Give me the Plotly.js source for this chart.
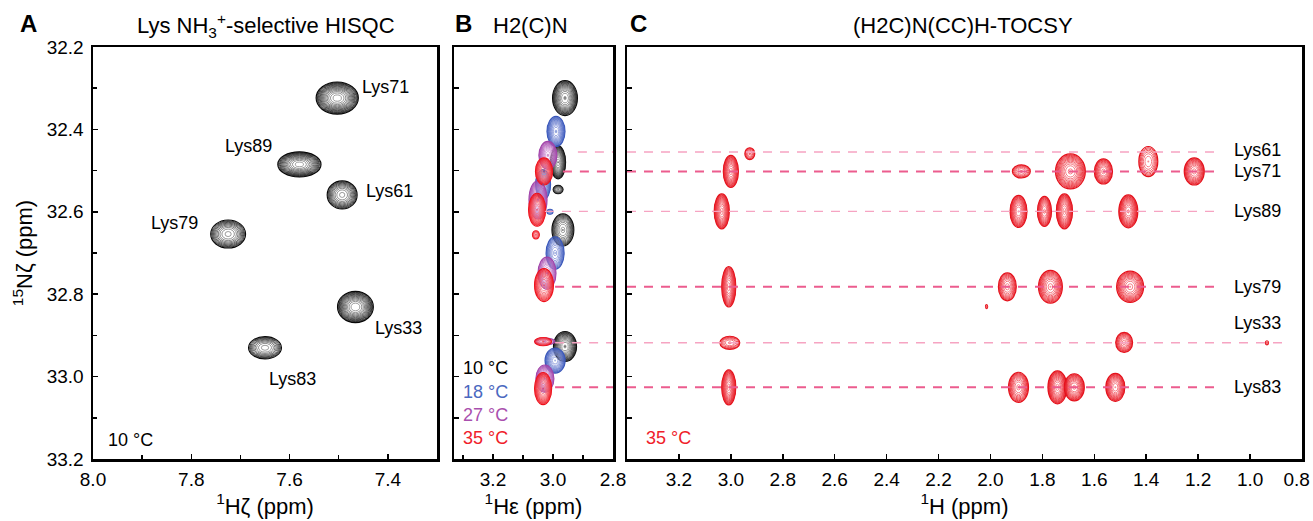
<!DOCTYPE html>
<html>
<head>
<meta charset="utf-8">
<script src="https://cdn.plot.ly/plotly-3.0.1.min.js"></script>
<style>html,body{margin:0;padding:0;background:#fff;}#chart{width:1313px;height:521px;}</style>
</head>
<body>
<div id="chart"></div>
<script>
// ---------------- DATA ----------------
// Panel A: Lys NH3+-selective HISQC, 10 °C
const aResidues = ['Lys71', 'Lys89', 'Lys61', 'Lys79', 'Lys33', 'Lys83'];
const aH = [7.503, 7.580, 7.493, 7.725, 7.466, 7.650];          // 1Hζ (ppm)
const aN = [32.324, 32.485, 32.559, 32.654, 32.831, 32.930];    // 15Nζ (ppm)
const aWidthH = [0.086, 0.088, 0.061, 0.071, 0.073, 0.067];     // peak width, ppm
const aWidthN = [0.078, 0.061, 0.068, 0.068, 0.076, 0.054];
const aIntensity = [60, 45, 15, 15, 50, 12];                   // relative to lowest contour

// Panel B: H2(C)N, four temperatures. Residue order below; null = not observed
const bResidues = ['Lys71', 'Lys89', 'Lys61', 'Lys79', 'Lys33', 'Lys83'];
const bTemps = ['10 °C', '18 °C', '27 °C', '35 °C'];
const bH10 = [2.960, 2.983, 2.983, 2.967, null, 2.960];
const bN10 = [32.324, 32.480, 32.546, 32.644, null, 32.927];
const bWH10 = [0.083, 0.050, 0.033, 0.073, null, 0.077];
const bWN10 = [0.085, 0.080, 0.020, 0.078, null, 0.073];
const bI10 = [40, 80, 8, 15, null, 40];
const bH18 = [2.990, 3.033, 3.010, 2.993, null, 2.993];
const bN18 = [32.405, 32.534, 32.600, 32.700, null, 32.961];
const bWH18 = [0.060, 0.050, 0.020, 0.060, null, 0.067];
const bWN18 = [0.073, 0.073, 0.012, 0.078, null, 0.061];
const bI18 = [40, 30, 3, 15, null, 30];
const bH27 = [3.017, 3.050, null, 3.020, 3.027, 3.027];
const bN27 = [32.463, 32.571, null, 32.749, 32.915, 33.005];
const bWH27 = [0.060, 0.060, null, 0.060, 0.067, 0.060];
const bWN27 = [0.068, 0.093, null, 0.078, 0.017, 0.066];
const bI27 = [40, 40, null, 15, 5, 35];
const bH35 = [3.030, 3.053, 3.057, 3.030, 3.033, 3.033];
const bN35 = [32.502, 32.595, 32.656, 32.778, 32.915, 33.029];
const bWH35 = [0.057, 0.057, 0.023, 0.063, 0.057, 0.057];
const bWN35 = [0.066, 0.080, 0.020, 0.080, 0.020, 0.078];
const bI35 = [45, 50, 4, 20, 5, 45];

// Panel C: (H2C)N(CC)H-TOCSY, 35 °C, cross peaks
const cResidues = ['Lys61','Lys61',
  'Lys71','Lys71','Lys71','Lys71','Lys71',
  'Lys89','Lys89','Lys89','Lys89','Lys89',
  'Lys79','Lys79','Lys79','Lys79','Lys79',
  'Lys33','Lys33','Lys33',
  'Lys83','Lys83','Lys83','Lys83','Lys83'];
const cH = [2.927, 1.392,
  3.000, 1.881, 1.692, 1.565, 1.215,
  3.035, 1.892, 1.792, 1.715, 1.469,
  3.008, 1.935, 1.769, 1.462, 2.015,
  3.004, 1.485, 0.935,
  3.008, 1.892, 1.742, 1.677, 1.519];
const cN = [32.459, 32.478,
  32.502, 32.502, 32.502, 32.502, 32.502,
  32.599, 32.599, 32.599, 32.599, 32.599,
  32.782, 32.782, 32.782, 32.782, 32.830,
  32.918, 32.917, 32.918,
  33.026, 33.026, 33.026, 33.026, 33.026];
const cWH = [0.038, 0.073,
  0.058, 0.069, 0.115, 0.070, 0.077,
  0.058, 0.065, 0.054, 0.062, 0.073,
  0.054, 0.069, 0.092, 0.104, 0.008,
  0.077, 0.065, 0.012,
  0.054, 0.077, 0.073, 0.077, 0.073];
const cWN = [0.029, 0.073,
  0.078, 0.032, 0.085, 0.061, 0.066,
  0.085, 0.078, 0.073, 0.085, 0.080,
  0.098, 0.068, 0.080, 0.076, 0.010,
  0.032, 0.049, 0.010,
  0.085, 0.073, 0.080, 0.066, 0.068];
const cI = [5, 6,
  35, 5, 25, 20, 20,
  45, 30, 25, 45, 40,
  35, 12, 20, 20, 1.5,
  5, 12, 1.5,
  45, 15, 45, 25, 30];

// 35 °C 15N shifts used for the guide lines (B and C)
const lineResidues = ['Lys61', 'Lys71', 'Lys89', 'Lys79', 'Lys33', 'Lys83'];
const lineN = [32.455, 32.502, 32.599, 32.782, 32.918, 33.026];
const lineStartB = [2.917, 2.967, 3.027, 2.993, 2.993, 2.993];
const lineEndC = [1.131, 1.131, 1.131, 1.131, 0.873, 1.131];
const lineStrong = [false, true, false, true, false, true];

// tick values / labels for panel C
const cTicks = [3.2, 3.0, 2.8, 2.6, 2.4, 2.2, 2.0, 1.8, 1.6, 1.4, 1.2, 1.0, 0.8];
const cTickText = ['3.2', '3.0', '2.8', '2.6', '2.4', '2.2', '2.0', '1.8', '1.6', '1.4', '1.2', '1.0', '0.8\u00a0\u00a0'];

// ---------------- RENDERING ----------------
const FONT = 'Arial, "Liberation Sans", Helvetica, sans-serif';
const shapes = [];
const traces = [];

function mix(a, b, t) {
  return 'rgb(' + a.map((v, i) => Math.round(v + (b[i] - v) * t)).join(',') + ')';
}
function peakRings(xr, yr, cx, cy, wx, wy, inten, outer, inner, lw) {
  if (cx == null) return;
  const m = 1.3;
  const L = Math.log(Math.max(inten, 1.05));
  const n = Math.max(1, Math.floor(L / Math.log(m)) + 1);
  for (let k = 0; k < n; k++) {
    let f = Math.sqrt(Math.max(0, 1 - k * Math.log(m) / L));
    if (f < 0.1) f = 0.1;
    const t = n > 1 ? k / (n - 1) : 0;
    shapes.push({
      type: 'circle', xref: xr, yref: yr, layer: 'below',
      x0: cx - wx / 2 * f, x1: cx + wx / 2 * f,
      y0: cy - wy / 2 * f, y1: cy + wy / 2 * f,
      line: {color: mix(outer, inner, t), width: k === 0 ? lw * 1.4 : lw}
    });
  }
}

// Panel A peaks
const BLACK_O = [5, 5, 5], BLACK_I = [130, 130, 130];
aH.forEach((h, i) => peakRings('x', 'y', h, aN[i], aWidthH[i], aWidthN[i], aIntensity[i], BLACK_O, BLACK_I, 0.8));
traces.push({x: aH, y: aN, text: aResidues, mode: 'markers', type: 'scatter', xaxis: 'x', yaxis: 'y',
  marker: {size: 3, color: '#ffffff'}, hoverinfo: 'text+x+y', showlegend: false});

// Panel B peaks
const bSets = [
  {H: bH10, N: bN10, WH: bWH10, WN: bWN10, I: bI10, o: [10, 10, 10], in: [140, 140, 140], c: '#000000'},
  {H: bH18, N: bN18, WH: bWH18, WN: bWN18, I: bI18, o: [55, 85, 185], in: [140, 155, 220], c: '#4a68c0'},
  {H: bH27, N: bN27, WH: bWH27, WN: bWN27, I: bI27, o: [160, 65, 168], in: [210, 150, 215], c: '#a94fae'},
  {H: bH35, N: bN35, WH: bWH35, WN: bWN35, I: bI35, o: [238, 15, 25], in: [248, 120, 130], c: '#f0202a'}
];
bSets.forEach((s, j) => {
  s.H.forEach((h, i) => peakRings('x2', 'y2', h, s.N[i], s.WH[i], s.WN[i], s.I[i], s.o, s.in, 0.8));
  traces.push({x: s.H, y: s.N, text: bResidues.map(r => r + ' ' + bTemps[j]), mode: 'markers', type: 'scatter',
    xaxis: 'x2', yaxis: 'y2', marker: {size: 2, color: s.c, opacity: 0.5}, hoverinfo: 'text+x+y', showlegend: false});
});

// Panel C peaks
cH.forEach((h, i) => peakRings('x3', 'y3', h, cN[i], cWH[i], cWN[i], cI[i], [228, 15, 25], [245, 105, 115], 0.85));
traces.push({x: cH, y: cN, text: cResidues, mode: 'markers', type: 'scatter', xaxis: 'x3', yaxis: 'y3',
  marker: {size: 2, color: '#f0202a', opacity: 0.5}, hoverinfo: 'text+x+y', showlegend: false});

// guide lines
lineN.forEach((n, i) => {
  const ln = {color: lineStrong[i] ? '#ec5c8e' : '#f6a4c2', width: lineStrong[i] ? 2 : 1.4, dash: '9px,8px'};
  traces.push({x: [lineStartB[i], 2.8], y: [n, n], mode: 'lines', type: 'scatter', xaxis: 'x2', yaxis: 'y2',
    line: ln, hoverinfo: 'skip', showlegend: false});
  traces.push({x: [3.4, lineEndC[i]], y: [n, n], mode: 'lines', type: 'scatter', xaxis: 'x3', yaxis: 'y3',
    line: ln, hoverinfo: 'skip', showlegend: false});
});

// ---------------- LAYOUT ----------------
const W = 1313, Hh = 521;
const px = v => v / W, py = v => 1 - v / Hh;
const yDom = [62 / Hh, 474 / Hh];
const tickFont = {family: FONT, size: 19, color: '#000'};
function axis(extra) {
  return Object.assign({
    showline: true, linecolor: '#000', linewidth: 2.5, mirror: true,
    ticks: 'inside', ticklen: 5, tickwidth: 1.5, tickcolor: '#000',
    showgrid: false, zeroline: false, tickfont: tickFont, tickformat: '.1f',
    ticklabeloverflow: 'allow',
    minor: {dtick: 0.1, ticks: 'inside', ticklen: 4, tickwidth: 1.5, tickcolor: '#000', showgrid: false}
  }, extra);
}
const yRange = [33.2, 32.2];

const annotations = [];
function txt(x, y, text, opts) {
  annotations.push(Object.assign({x: px(x), y: py(y), xref: 'paper', yref: 'paper', text: text, showarrow: false,
    xanchor: 'center', yanchor: 'middle',
    font: {family: FONT, size: 22, color: '#000'}}, opts || {}));
}
const letterFont = {family: FONT, size: 24, color: '#000'};
txt(28, 24, '<b>A</b>', {font: letterFont});
txt(266, 25, 'Lys NH<sub>3</sub><sup>+</sup>-selective HISQC');
txt(463, 24, '<b>B</b>', {font: letterFont});
txt(530, 25, 'H2(C)N');
txt(638, 24, '<b>C</b>', {font: letterFont});
txt(963, 25, '(H2C)N(CC)H-TOCSY');

// A peak labels (offsets in pixels from peak centres)
const aLabelShift = [[48, 11], [-51, 18], [47, 4], [-54, 11], [43, -21], [27, -31]];
aResidues.forEach((r, i) => annotations.push({x: aH[i], y: aN[i], xref: 'x', yref: 'y', text: r, showarrow: false,
  xanchor: 'center', yanchor: 'middle',
  xshift: aLabelShift[i][0], yshift: aLabelShift[i][1], font: {family: FONT, size: 18, color: '#000'}}));
txt(106, 440, '10 °C', {xanchor: 'left', font: {family: FONT, size: 18, color: '#000'}});

// B temperature key
const bKeyY = [368, 392, 415, 438];
bTemps.forEach((t, j) => txt(461, bKeyY[j], t, {xanchor: 'left', font: {family: FONT, size: 18, color: bSets[j].c}}));

// C residue labels
const cLabelShift = [2, 0, 0, 0, 20, 0];
lineResidues.forEach((r, i) => annotations.push({x: px(1257), xref: 'paper', y: lineN[i], yref: 'y3', text: r,
  showarrow: false, xanchor: 'center', yanchor: 'middle', yshift: cLabelShift[i],
  font: {family: FONT, size: 18, color: '#000'}}));
txt(644, 438, '35 °C', {xanchor: 'left', font: {family: FONT, size: 18, color: '#f0202a'}});

const layout = {
  width: W, height: Hh, margin: {l: 0, r: 0, t: 0, b: 0},
  paper_bgcolor: '#fff', plot_bgcolor: '#fff', showlegend: false,
  font: {family: FONT, color: '#000'},
  xaxis: axis({domain: [px(93), px(437)], range: [8.0, 7.3], dtick: 0.2, tick0: 0, anchor: 'y',
    ticklabelstandoff: 2,
    title: {text: '<sup>1</sup>Hζ (ppm)', font: {family: FONT, size: 22}, standoff: 4}}),
  yaxis: axis({domain: yDom, range: yRange, dtick: 0.2, tick0: 0, anchor: 'x', ticklabelstandoff: 3,
    title: {text: '<sup>15</sup>Nζ (ppm)', font: {family: FONT, size: 22}, standoff: 8}}),
  xaxis2: axis({domain: [px(454), px(613)], range: [3.33, 2.8], dtick: 0.2, tick0: 0, anchor: 'y2',
    ticklabelstandoff: 2,
    title: {text: '<sup>1</sup>Hε (ppm)', font: {family: FONT, size: 22}, standoff: 4}}),
  yaxis2: axis({domain: yDom, range: yRange, dtick: 0.1, tick0: 0, anchor: 'x2', showticklabels: false,
    minor: {showgrid: false}}),
  xaxis3: axis({domain: [px(627), px(1302)], range: [3.4, 0.8], tickmode: 'array', tickvals: cTicks,
    ticktext: cTickText, anchor: 'y3', ticklabelstandoff: 2, minor: {showgrid: false},
    title: {text: '<sup>1</sup>H (ppm)', font: {family: FONT, size: 22}, standoff: 4}}),
  yaxis3: axis({domain: yDom, range: yRange, dtick: 0.1, tick0: 0, anchor: 'x3', showticklabels: false,
    minor: {showgrid: false}}),
  shapes: shapes,
  annotations: annotations
};

Plotly.newPlot('chart', traces, layout, {displayModeBar: false, staticPlot: true});
</script>
</body>
</html>
